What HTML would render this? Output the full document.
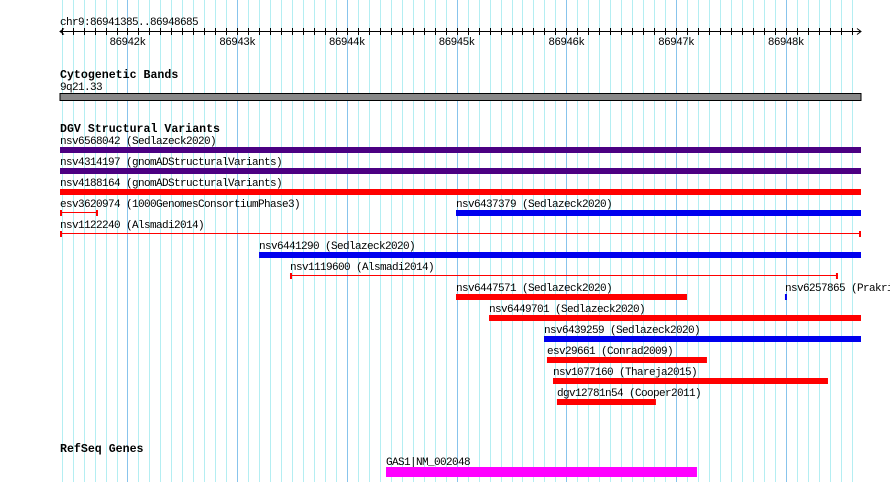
<!DOCTYPE html>
<html><head><meta charset="utf-8"><style>
html,body{margin:0;padding:0;background:#fff}
svg{display:block}
text{font-family:"Liberation Mono","DejaVu Sans Mono",monospace;font-size:11px;letter-spacing:-0.6px;fill:#000}
.t{font-weight:bold;font-size:11.6px;letter-spacing:0}
</style></head><body>
<svg id="c" width="890" height="482" xmlns="http://www.w3.org/2000/svg">
<g id="grid"></g>
<g id="ruler"></g>
<text x="60" y="25">chr9:86941385..86948685</text>
<text class="t" x="60" y="78">Cytogenetic Bands</text>
<text x="60" y="90">9q21.33</text>
<rect x="60" y="93.5" width="801" height="7" fill="#888" stroke="#000" stroke-width="1"/>
<text class="t" x="60" y="132">DGV Structural Variants</text>
<g id="feats"></g>
<text class="t" x="60" y="452">RefSeq Genes</text>
<g id="genes"></g>
</svg>
<script>
const viewStart = 86941385;
const viewEnd = 86948685;
const featNames = ["nsv6568042 (Sedlazeck2020)","nsv4314197 (gnomADStructuralVariants)","nsv4188164 (gnomADStructuralVariants)","esv3620974 (1000GenomesConsortiumPhase3)","nsv6437379 (Sedlazeck2020)","nsv1122240 (Alsmadi2014)","nsv6441290 (Sedlazeck2020)","nsv1119600 (Alsmadi2014)","nsv6447571 (Sedlazeck2020)","nsv6257865 (Prakrithi2016)","nsv6449701 (Sedlazeck2020)","nsv6439259 (Sedlazeck2020)","esv29661 (Conrad2009)","nsv1077160 (Thareja2015)","dgv12781n54 (Cooper2011)"];
const featStarts = [86941385,86941385,86941385,86941385,86944994,86941385,86943199,86943481,86944994,86947992,86945295,86945796,86945823,86945878,86945914];
const featEnds = [86948685,86948685,86948685,86941731,86948685,86948685,86948685,86948475,86947099,86948010,86948685,86948685,86947281,86948384,86946816];
const featRows = [0,1,2,3,3,4,5,6,7,7,8,9,10,11,12];
const featTypes = ["purple","purple","red","redline","blue","redline","blue","redline","red","blue","red","blue","red","red","red"];
const geneNames = ["GAS1|NM_002048"];
const geneStarts = [86944356];
const geneEnds = [86947190];
const tickLabels = ["86942k","86943k","86944k","86945k","86946k","86947k","86948k"];

const NS="http://www.w3.org/2000/svg";
const X0=60,X1=861;
function xs(bp){return X0+(bp-viewStart)/(viewEnd-viewStart)*(X1-X0);}
function mk(tag,attrs,parent){const e=document.createElementNS(NS,tag);for(const k in attrs)e.setAttribute(k,attrs[k]);parent.appendChild(e);return e;}
const grid=document.getElementById('grid'),ruler=document.getElementById('ruler');
const first=Math.ceil(viewStart/100)*100;
for(let bp=first;bp<=viewEnd;bp+=100){
  const x=Math.round(xs(bp))+0.5;const major=bp%1000===0;
  const l=mk('line',{x1:x,x2:x,y1:0,y2:482,stroke:major?'#88c4ec':'#b4eef2','stroke-width':1},grid);
  
  
  const t=mk('line',{x1:x,x2:x,y1:28,y2:35,stroke:'#000'},ruler);
  
  
}
const ax=mk('line',{x1:60,x2:861,y1:31.5,y2:31.5,stroke:'#000'},ruler);


const arr=mk('path',{d:'M64,28.5 L60,31.5 L64,34.5 M857,28.5 L861,31.5 L857,34.5',stroke:'#000',fill:'none'},ruler);


tickLabels.forEach(function(lab){
  const bp=parseInt(lab)*1000;
  const t=mk('text',{x:xs(bp),y:45,'text-anchor':'middle'},ruler);t.textContent=lab;
  
  
});
const colors={purple:'#4b0082',red:'#ff0000',blue:'#0000ee',redline:'#ff0000'};
const feats=document.getElementById('feats');
featNames.forEach(function(n,i){
  const y=137+featRows[i]*21;const x1=xs(featStarts[i]),x2=xs(featEnds[i]);
  const g=mk('g',{},feats);
  
  
  const t=mk('text',{x:Math.round(x1),y:y+7},g);t.textContent=n;
  const c=colors[featTypes[i]];
  if(featTypes[i]==='redline'){
    mk('line',{x1:x1,x2:x2,y1:y+12.5,y2:y+12.5,stroke:c},g);
    mk('rect',{x:x1,y:y+10,width:2,height:6,fill:c},g);
    mk('rect',{x:x2-2,y:y+10,width:2,height:6,fill:c},g);
  } else {
    mk('rect',{x:x1,y:y+10,width:Math.max(2,x2-x1),height:6,fill:c},g);
  }
});
const genes=document.getElementById('genes');
geneNames.forEach(function(n,i){
  const x1=xs(geneStarts[i]),x2=xs(geneEnds[i]);
  const g=mk('g',{},genes);
  
  
  const t=mk('text',{x:Math.round(x1),y:465},g);t.textContent=n;
  mk('rect',{x:x1,y:467,width:x2-x1,height:10,fill:'#ff00ff'},g);
});
</script>
</body></html>
